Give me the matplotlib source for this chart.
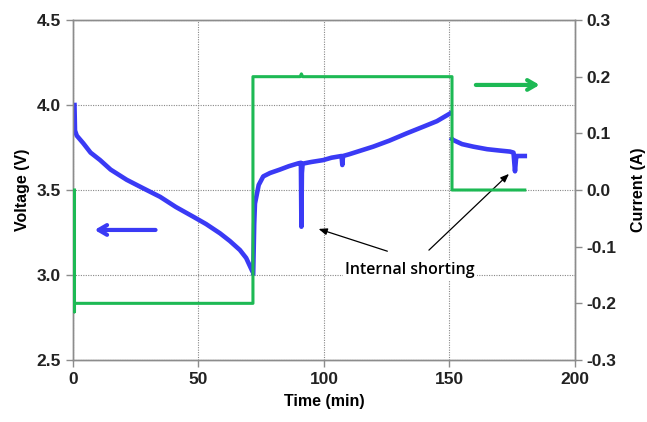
import matplotlib
matplotlib.use("Agg")
import matplotlib.pyplot as plt

# voltage (V) vs time (min)
t_dis = [0.6, 0.8, 1.5, 4.1, 7.0, 10.8, 15.0, 21.4, 28.0, 34.7, 41.0, 47.9, 53.0,
         58.6, 62.5, 66.5, 69.0, 71.2]
v_dis = [4.00, 3.85, 3.82, 3.775, 3.72, 3.676, 3.62, 3.56, 3.51, 3.46, 3.40, 3.343,
         3.30, 3.245, 3.20, 3.147, 3.10, 3.03]

t_chg = [71.8, 72.2, 72.5, 74.0, 75.8, 78.5, 82.4, 86.0, 89.8, 90.8, 91.0, 91.2,
         91.5, 95.0, 99.7, 103.0, 107.0, 107.3, 107.6, 110.0, 119.6, 126.0, 132.9,
         140.0, 145.0, 150.2]
v_chg = [3.01, 3.30, 3.42, 3.53, 3.58, 3.60, 3.62, 3.64, 3.657, 3.66, 3.284, 3.60,
         3.655, 3.665, 3.676, 3.69, 3.70, 3.647, 3.70, 3.71, 3.755, 3.79, 3.833,
         3.875, 3.905, 3.95]

t_rest = [151.0, 151.5, 155.0, 159.5, 165.0, 170.0, 174.1, 175.5, 176.1, 176.6,
          177.5, 180.0]
v_rest = [3.80, 3.794, 3.77, 3.755, 3.74, 3.732, 3.726, 3.72, 3.61, 3.70, 3.70, 3.70]

# current (A)
t_cur = [0.6, 0.6, 0.6, 71.7, 71.7, 90.5, 91.0, 91.5, 151.0, 151.0, 180.0]
i_cur = [0.0, -0.215, -0.2, -0.2, 0.2, 0.2, 0.205, 0.2, 0.2, 0.0, 0.0]

x_ticks = [0, 50, 100, 150, 200]
v_ticks = [2.5, 3.0, 3.5, 4.0, 4.5]
i_ticks = [-0.3, -0.2, -0.1, 0.0, 0.1, 0.2, 0.3]

BLUE = "#3a3af5"
GREEN = "#1db954"
GREY = "#8c8c8c"

plt.rcParams["font.family"] = ["Liberation Sans", "DejaVu Sans"]

fig = plt.figure(figsize=(6.47, 4.22), dpi=100)
ax = fig.add_axes([0.1128, 0.1469, 0.7759, 0.8057])
ax2 = ax.twinx()

ax.plot(t_dis, v_dis, color=BLUE, lw=3.3, solid_joinstyle="round", zorder=3)
ax.plot(t_chg, v_chg, color=BLUE, lw=3.3, solid_joinstyle="round", zorder=3)
ax.plot(t_rest, v_rest, color=BLUE, lw=3.3, solid_joinstyle="round", zorder=3)
ax2.plot(t_cur, i_cur, color=GREEN, lw=2.2, zorder=4)

ax.set_xlim(0, 200)
ax.set_ylim(2.5, 4.5)
ax2.set_ylim(-0.3, 0.3)
ax.set_xticks(x_ticks)
ax.set_yticks(v_ticks)
ax2.set_yticks(i_ticks)
ax.set_yticklabels([f"{v:.1f}" for v in v_ticks])
ax2.set_yticklabels([f"{v:.1f}" for v in i_ticks])

ax.grid(True, linestyle=(0, (1, 1.2)), color="#888888", lw=0.8)
ax.set_axisbelow(True)

for a in (ax, ax2):
    for s in a.spines.values():
        s.set_color(GREY)
        s.set_linewidth(1.0)
    a.tick_params(colors=GREY, length=5, width=1, labelcolor="#222222",
                  labelsize=12.5)
    for lab in a.get_xticklabels() + a.get_yticklabels():
        lab.set_fontweight("bold")

ax.set_xlabel("Time (min)", fontsize=11.5, fontweight="bold", labelpad=5)
ax.set_ylabel("Voltage (V)", fontsize=11.5, fontweight="bold", labelpad=5)
ax2.set_ylabel("Current (A)", fontsize=11.5, fontweight="bold", labelpad=10)

# direction arrows
ax.annotate("", xy=(7.5, 3.265), xytext=(34, 3.265),
            arrowprops=dict(arrowstyle="->,head_length=0.6,head_width=0.35",
                            color=BLUE, lw=3), zorder=5)
ax.annotate("", xy=(187, 4.118), xytext=(159.4, 4.118),
            arrowprops=dict(arrowstyle="->,head_length=0.6,head_width=0.35",
                            color=GREEN, lw=3), zorder=5)

# internal shorting callouts
ax.text(134.3, 3.03, "Internal shorting", ha="center", va="center",
        fontsize=11.5, fontweight="semibold", family=["Open Sans", "DejaVu Sans"],
        bbox=dict(facecolor="white", edgecolor="none", pad=1.5), zorder=6)
ax.annotate("", xy=(96.8, 3.276), xytext=(126.3, 3.135),
            arrowprops=dict(arrowstyle="-|>,head_length=0.5,head_width=0.2",
                            color="black", lw=0.9), zorder=6)
ax.annotate("", xy=(174.5, 3.606), xytext=(141.0, 3.135),
            arrowprops=dict(arrowstyle="-|>,head_length=0.5,head_width=0.2",
                            color="black", lw=0.9), zorder=6)

fig.savefig("out.png", dpi=100)
